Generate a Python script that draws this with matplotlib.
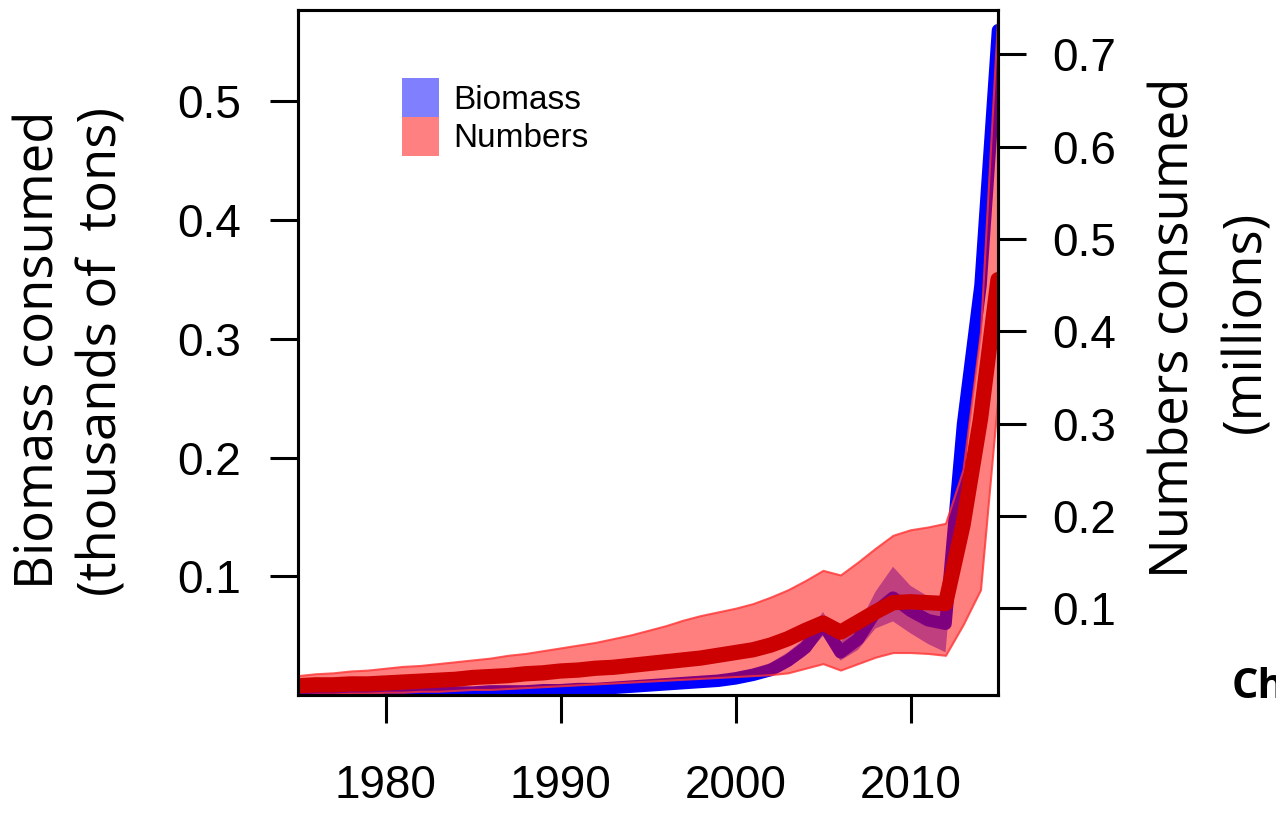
import numpy as np
import matplotlib
matplotlib.use('Agg')
import matplotlib.pyplot as plt
from matplotlib.patches import Patch

# ---- данные ----
years = list(range(1975, 2016))

# Numbers consumed, millions (правая ось)
num_med = [0.016, 0.017, 0.017, 0.018, 0.018, 0.019, 0.020, 0.021, 0.022, 0.023,
           0.025, 0.026, 0.027, 0.029, 0.030, 0.032, 0.033, 0.035, 0.036, 0.038,
           0.040, 0.042, 0.044, 0.046, 0.049, 0.052, 0.055, 0.060, 0.067, 0.076,
           0.084, 0.074, 0.085, 0.096, 0.106, 0.107, 0.106, 0.105, 0.190, 0.305,
           0.456]
num_lo = [0.006, 0.007, 0.007, 0.008, 0.008, 0.009, 0.009, 0.010, 0.010, 0.011,
          0.012, 0.012, 0.013, 0.014, 0.015, 0.016, 0.017, 0.018, 0.019, 0.020,
          0.021, 0.022, 0.023, 0.024, 0.025, 0.026, 0.027, 0.028, 0.030, 0.035,
          0.040, 0.033, 0.040, 0.047, 0.052, 0.052, 0.051, 0.049, 0.082, 0.120,
          0.330]
num_hi = [0.027, 0.029, 0.030, 0.032, 0.033, 0.035, 0.037, 0.038, 0.040, 0.042,
          0.044, 0.046, 0.049, 0.051, 0.054, 0.057, 0.060, 0.063, 0.067, 0.071,
          0.076, 0.081, 0.087, 0.092, 0.096, 0.100, 0.105, 0.112, 0.120, 0.130,
          0.141, 0.136, 0.150, 0.165, 0.179, 0.185, 0.188, 0.192, 0.250, 0.400,
          0.748]

# Biomass consumed, thousands of tons (левая ось)
bio_med = [0.000, 0.000, 0.000, 0.001, 0.001, 0.001, 0.001, 0.001, 0.002, 0.002,
           0.002, 0.003, 0.003, 0.003, 0.004, 0.004, 0.005, 0.005, 0.006, 0.007,
           0.008, 0.009, 0.010, 0.011, 0.012, 0.014, 0.017, 0.021, 0.029, 0.040,
           0.060, 0.036, 0.047, 0.070, 0.082, 0.071, 0.063, 0.060, 0.228, 0.345,
           0.560]
bio_lo = [0.000, 0.000, 0.000, 0.000, 0.000, 0.000, 0.000, 0.000, 0.001, 0.001,
          0.001, 0.002, 0.002, 0.002, 0.003, 0.003, 0.003, 0.004, 0.004, 0.005,
          0.006, 0.006, 0.007, 0.008, 0.009, 0.010, 0.013, 0.016, 0.023, 0.033,
          0.050, 0.029, 0.038, 0.056, 0.062, 0.052, 0.043, 0.036, 0.205, 0.325,
          0.520]
bio_hi = [0.001, 0.001, 0.001, 0.002, 0.002, 0.002, 0.002, 0.003, 0.003, 0.003,
          0.004, 0.004, 0.005, 0.005, 0.006, 0.006, 0.007, 0.008, 0.009, 0.010,
          0.011, 0.012, 0.013, 0.015, 0.016, 0.019, 0.022, 0.027, 0.036, 0.048,
          0.070, 0.045, 0.058, 0.087, 0.108, 0.092, 0.083, 0.078, 0.250, 0.365,
          0.577]

x_ticks = [1980, 1990, 2000, 2010]
left_ticks = [0.1, 0.2, 0.3, 0.4, 0.5]
right_ticks = [0.1, 0.2, 0.3, 0.4, 0.5, 0.6, 0.7]
legend_labels = ['Biomass', 'Numbers']

# ---- рисунок ----
plt.rcParams['font.family'] = ['Liberation Sans', 'DejaVu Sans']

W, H = 1276, 817
fig = plt.figure(figsize=(W / 100, H / 100), dpi=100)
ax = fig.add_axes([298 / W, (H - 695) / H, 700 / W, 685 / H])
ax2 = ax.twinx()

ax.fill_between(years, bio_lo, bio_hi, facecolor=(0, 0, 1, 0.5), linewidth=0)
ax.plot(years, bio_med, color='#0000FF', lw=9,
        solid_capstyle='round', solid_joinstyle='round')

ax2.fill_between(years, num_lo, num_hi, facecolor=(1, 0, 0, 0.5),
                 edgecolor=(1, 0.2, 0.2, 0.8), linewidth=1.5)
ax2.plot(years, num_med, color='#CC0000', lw=11,
         solid_capstyle='round', solid_joinstyle='round')

ax.set_xlim(1975, 2015)
ax.set_ylim(0, 0.577)
ax2.set_ylim(0.006, 0.748)

ax.set_xticks(x_ticks)
ax.set_xticklabels([str(t) for t in x_ticks])
ax.set_yticks(left_ticks)
ax.set_yticklabels([f'{t:.1f}' for t in left_ticks])
ax2.set_yticks(right_ticks)
ax2.set_yticklabels([f'{t:.1f}' for t in right_ticks])

ax.tick_params(axis='both', direction='out', length=20, width=2.2, labelsize=33)
ax.tick_params(axis='y', pad=21)
ax.tick_params(axis='x', pad=30)
ax2.tick_params(axis='y', direction='out', length=20, width=2.2, labelsize=33, pad=19)

for a in (ax, ax2):
    for s in a.spines.values():
        s.set_linewidth(2.2)

# легенда: заливки как у полос (альфа 0.5 на белом)
handles = [Patch(facecolor=(0.5, 0.5, 1), linewidth=0),
           Patch(facecolor=(1, 0.5, 0.5), linewidth=0)]
ax2.legend(handles, legend_labels, loc='upper left',
           bbox_to_anchor=((402 - 298) / 700, (695 - 78) / 685),
           frameon=False, fontsize=24, handlelength=1.12, handleheight=1.42,
           handletextpad=0.42, labelspacing=0, borderpad=0, borderaxespad=0)

lab = dict(family=['Open Sans', 'DejaVu Sans'], fontsize=38, rotation=90,
           ha='center', va='center')
fig.text(40 / W, 1 - 350 / H, 'Biomass consumed', **lab)
fig.text(103 / W, 1 - 351 / H, '(thousands of  tons)', **lab)
fig.text(1175 / W, 1 - 328 / H, 'Numbers consumed', **lab)
fig.text(1247 / W, 1 - 322 / H, '(millions)', **lab)

# обрезанная подпись справа, как в оригинале
fig.text(1232 / W, 1 - 688 / H, 'Ch', family=['Open Sans', 'DejaVu Sans'],
         fontweight='bold', fontsize=30, ha='left', va='center')

fig.savefig('out.png', dpi=100)
